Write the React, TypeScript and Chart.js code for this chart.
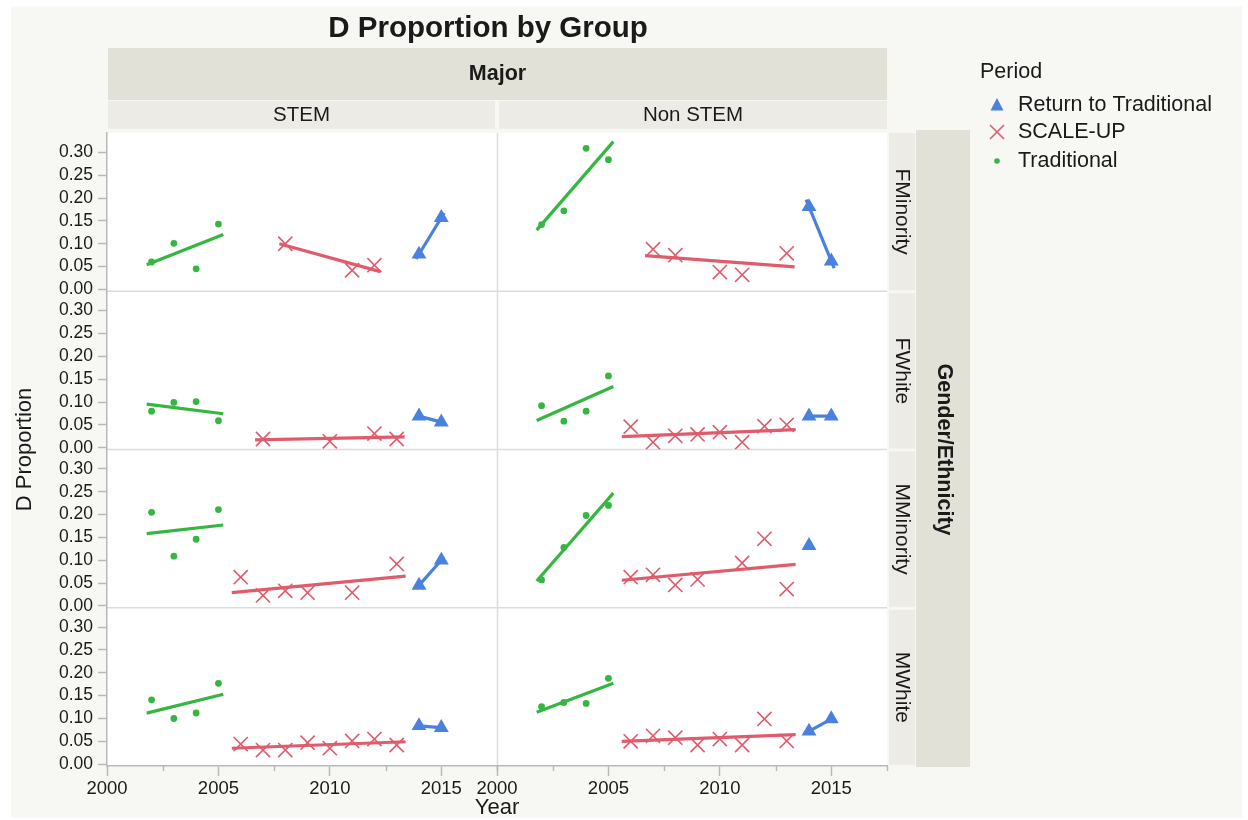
import React, { useEffect, useRef } from 'react';
import { Chart, registerables } from 'chart.js';

Chart.register(...registerables);

// ---------- data ----------
const chartTitle = 'D Proportion by Group';
const colHeader = 'Major';
const rowHeader = 'Gender/Ethnicity';
const colLabels = ['STEM', 'Non STEM'];
const rowLabels = ['FMinority', 'FWhite', 'MMinority', 'MWhite'];
const periodNames = ['Return to Traditional', 'SCALE-UP', 'Traditional'];
const legendTitle = 'Period';
const xTitle = 'Year';
const yTitle = 'D Proportion';

const tradYears = [2002, 2003, 2004, 2005];
const rttYears = [2014, 2015];

// Traditional
const tradStemFMinority = [0.060, 0.101, 0.045, 0.143];
const tradStemFWhite = [0.080, 0.099, 0.101, 0.059];
const tradStemMMinority = [0.205, 0.109, 0.146, 0.211];
const tradStemMWhite = [0.141, 0.100, 0.112, 0.177];
const tradNonStemFMinority = [0.142, 0.172, 0.309, 0.284];
const tradNonStemFWhite = [0.092, 0.058, 0.080, 0.157];
const tradNonStemMMinority = [0.057, 0.128, 0.198, 0.220];
const tradNonStemMWhite = [0.126, 0.135, 0.133, 0.188];

// Return to Traditional
const rttStemFMinority = [0.077, 0.157];
const rttStemFWhite = [0.069, 0.056];
const rttStemMMinority = [0.045, 0.100];
const rttStemMWhite = [0.084, 0.080];
const rttNonStemFMinority = [0.181, 0.062];
const rttNonStemFWhite = [0.069, 0.069];
const rttNonStemMMinority = [0.132, null];
const rttNonStemMWhite = [0.072, 0.099];

// SCALE-UP  [year, value]
const suStemFMinority = [[2008, 0.100], [2011, 0.042], [2012, 0.053]];
const suStemFWhite = [[2007, 0.019], [2010, 0.014], [2012, 0.031], [2013, 0.019]];
const suStemMMinority = [[2006, 0.063], [2007, 0.023], [2008, 0.033], [2009, 0.029], [2011, 0.029], [2013, 0.092]];
const suStemMWhite = [[2006, 0.044], [2007, 0.031], [2008, 0.031], [2009, 0.047], [2010, 0.035], [2011, 0.051], [2012, 0.055], [2013, 0.042]];
const suNonStemFMinority = [[2007, 0.088], [2008, 0.075], [2010, 0.038], [2011, 0.032], [2013, 0.079]];
const suNonStemFWhite = [[2006, 0.046], [2007, 0.012], [2008, 0.026], [2009, 0.029], [2010, 0.034], [2011, 0.012], [2012, 0.047], [2013, 0.050]];
const suNonStemMMinority = [[2006, 0.063], [2007, 0.068], [2008, 0.046], [2009, 0.058], [2011, 0.094], [2012, 0.147], [2013, 0.037]];
const suNonStemMWhite = [[2006, 0.050], [2007, 0.062], [2008, 0.058], [2009, 0.042], [2010, 0.055], [2011, 0.042], [2012, 0.099], [2013, 0.051]];

const tradPanels = [
  [tradStemFMinority, tradNonStemFMinority],
  [tradStemFWhite, tradNonStemFWhite],
  [tradStemMMinority, tradNonStemMMinority],
  [tradStemMWhite, tradNonStemMWhite],
];
const rttPanels = [
  [rttStemFMinority, rttNonStemFMinority],
  [rttStemFWhite, rttNonStemFWhite],
  [rttStemMMinority, rttNonStemMMinority],
  [rttStemMWhite, rttNonStemMWhite],
];
const suPanels = [
  [suStemFMinority, suNonStemFMinority],
  [suStemFWhite, suNonStemFWhite],
  [suStemMMinority, suNonStemMMinority],
  [suStemMWhite, suNonStemMWhite],
];

// ---------- styles ----------
const FONT = "'Liberation Sans', Arial, Helvetica, sans-serif";
const BLUE = '#4a80de';
const RED = '#e05b6b';
const GREEN = '#35b640';
const BG = '#f7f7f3';
const STRIP_DARK = '#e1e1d7';
const STRIP_LIGHT = '#ecebe5';
const AXIS_GRAY = '#b8b8b8';
const TEXT = '#1a1a1a';

type Pt = { x: number; y: number };

// least-squares line of fit over the group's points (as the source tool draws)
function fitLine(pts: Pt[]): Pt[] | null {
  if (pts.length < 2) return null;
  const n = pts.length;
  const mx = pts.reduce((s, p) => s + p.x, 0) / n;
  const my = pts.reduce((s, p) => s + p.y, 0) / n;
  let sxy = 0, sxx = 0;
  pts.forEach((p) => { sxy += (p.x - mx) * (p.y - my); sxx += (p.x - mx) * (p.x - mx); });
  const b = sxy / sxx;
  const xmin = Math.min(...pts.map((p) => p.x));
  const xmax = Math.max(...pts.map((p) => p.x));
  const ext = 0.085 + 0.045 * (xmax - xmin);
  const x0 = xmin - ext, x1 = xmax + ext;
  return [{ x: x0, y: my + b * (x0 - mx) }, { x: x1, y: my + b * (x1 - mx) }];
}

function buildDatasets() {
  const ds: any[] = [];
  for (let r = 0; r < rowLabels.length; r++) {
    for (let c = 0; c < colLabels.length; c++) {
      const xAxisID = 'x' + c;
      const yAxisID = 'y' + r;
      const trad: Pt[] = tradYears.map((x, i) => ({ x, y: tradPanels[r][c][i] as number }));
      const su: Pt[] = suPanels[r][c].map(([x, y]) => ({ x, y }));
      const rtt: Pt[] = rttYears
        .map((x, i) => ({ x, y: rttPanels[r][c][i] as any }))
        .filter((p) => p.y !== null && p.y !== undefined);
      const groups = [
        { name: periodNames[2], pts: trad, color: GREEN, style: 'circle', radius: 3.4, bw: 0 },
        { name: periodNames[1], pts: su, color: RED, style: 'crossRot', radius: 10, bw: 1.6 },
        { name: periodNames[0], pts: rtt, color: BLUE, style: 'triangle', radius: 8.6, bw: 0 },
      ];
      groups.forEach((g) => {
        const fit = fitLine(g.pts);
        if (fit) {
          ds.push({
            label: g.name + ' fit',
            data: fit,
            xAxisID, yAxisID,
            showLine: true,
            borderColor: g.color,
            borderWidth: 3.2,
            pointRadius: 0,
            pointHoverRadius: 0,
            order: 2,
          });
        }
        ds.push({
          label: g.name,
          data: g.pts,
          xAxisID, yAxisID,
          showLine: false,
          pointStyle: g.style,
          pointRadius: g.radius,
          pointHoverRadius: g.radius,
          backgroundColor: g.color,
          borderColor: g.color,
          borderWidth: g.bw,
          order: 1,
        });
      });
    }
  }
  return ds;
}

function drawText(ctx: CanvasRenderingContext2D, str: string, x: number, y: number, font: string,
  align: CanvasTextAlign = 'center', rot = 0) {
  ctx.save();
  ctx.translate(x, y);
  if (rot) ctx.rotate(rot);
  ctx.font = font;
  ctx.fillStyle = TEXT;
  ctx.textAlign = align;
  ctx.textBaseline = 'middle';
  ctx.fillText(str, 0, 0);
  ctx.restore();
}

const facetPlugin = {
  id: 'facets',
  beforeDraw(chart: any) {
    const { ctx, chartArea, scales } = chart;
    const xs = [scales.x0, scales.x1];
    const ys = [scales.y0, scales.y1, scales.y2, scales.y3];
    ctx.save();
    ctx.fillStyle = '#ffffff';
    ctx.fillRect(0, 0, chart.width, chart.height);
    ctx.fillStyle = BG;
    ctx.fillRect(11, 6, 1231, 812);

    // panels
    ctx.fillStyle = '#ffffff';
    ctx.fillRect(chartArea.left, chartArea.top, chartArea.right - chartArea.left, chartArea.bottom - chartArea.top);
    ctx.strokeStyle = '#dcdcdc';
    ctx.lineWidth = 1.5;
    ctx.beginPath();
    ctx.moveTo(xs[0].right + 0.5, chartArea.top);
    ctx.lineTo(xs[0].right + 0.5, chartArea.bottom);
    for (let r = 0; r < ys.length - 1; r++) {
      ctx.moveTo(chartArea.left, ys[r].bottom);
      ctx.lineTo(chartArea.right, ys[r].bottom);
    }
    ctx.stroke();

    // title
    drawText(ctx, chartTitle, 488, 29, `bold 29.5px ${FONT}`);

    // column strips
    const left = xs[0].left + 1;
    const right = xs[1].right;
    ctx.fillStyle = STRIP_DARK;
    ctx.fillRect(left, 48, right - left, 52);
    drawText(ctx, colHeader, (left + right) / 2, 74, `bold 21.5px ${FONT}`);
    ctx.fillStyle = STRIP_LIGHT;
    xs.forEach((s: any, c: number) => {
      const l = s.left + (c === 0 ? 1 : 2);
      const rr = s.right - (c === 0 ? 2 : 0);
      ctx.fillRect(l, 101, rr - l, 28);
      drawText(ctx, colLabels[c], (l + rr) / 2, 115.5, `20.5px ${FONT}`);
    });

    // row strips
    const sx = chartArea.right + 2;
    ctx.fillStyle = STRIP_DARK;
    ctx.fillRect(sx + 27, chartArea.top - 3, 54, chartArea.bottom - chartArea.top + 4);
    drawText(ctx, rowHeader, sx + 55, (chartArea.top + chartArea.bottom) / 2, `bold 21.5px ${FONT}`, 'center', Math.PI / 2);
    ys.forEach((s: any, r: number) => {
      ctx.fillStyle = STRIP_LIGHT;
      const t = s.top + (r === 0 ? 0 : 2);
      const b = s.bottom - 1;
      ctx.fillRect(sx, t, 26, b - t);
      drawText(ctx, rowLabels[r], sx + 13, (t + b) / 2, `21px ${FONT}`, 'center', Math.PI / 2);
    });

    // axis titles
    drawText(ctx, yTitle, 25, (chartArea.top + chartArea.bottom) / 2, `22px ${FONT}`, 'center', -Math.PI / 2);
    drawText(ctx, xTitle, (chartArea.left + chartArea.right) / 2, 808, `22px ${FONT}`);

    // legend
    drawText(ctx, legendTitle, 980, 72, `21.5px ${FONT}`, 'left');
    const ly = [105, 132, 161];
    const lx = 997;
    // triangle
    ctx.fillStyle = BLUE;
    ctx.beginPath();
    ctx.moveTo(lx, ly[0] - 7);
    ctx.lineTo(lx + 6.5, ly[0] + 5.5);
    ctx.lineTo(lx - 6.5, ly[0] + 5.5);
    ctx.closePath();
    ctx.fill();
    // cross
    ctx.strokeStyle = RED;
    ctx.lineWidth = 1.6;
    ctx.beginPath();
    ctx.moveTo(lx - 7, ly[1] - 7);
    ctx.lineTo(lx + 7, ly[1] + 7);
    ctx.moveTo(lx + 7, ly[1] - 7);
    ctx.lineTo(lx - 7, ly[1] + 7);
    ctx.stroke();
    // dot
    ctx.fillStyle = GREEN;
    ctx.beginPath();
    ctx.arc(lx, ly[2], 2.8, 0, Math.PI * 2);
    ctx.fill();
    periodNames.forEach((n, i) => drawText(ctx, n, 1018, ly[i], `21.5px ${FONT}`, 'left'));
    ctx.restore();
  },
  afterDraw(chart: any) {
    const { ctx, scales } = chart;
    ctx.save();
    ctx.strokeStyle = AXIS_GRAY;
    ctx.lineWidth = 1.5;
    ['x0', 'x1'].forEach((id) => {
      const s = scales[id];
      for (let v = s.min + 2.5; v <= s.max + 1e-6; v += 5) {
        const px = Math.round(s.getPixelForValue(v)) + 0.5;
        ctx.beginPath();
        ctx.moveTo(px, s.top);
        ctx.lineTo(px, s.top + 5);
        ctx.stroke();
      }
    });
    ctx.restore();
  },
};

function xScale() {
  return {
    type: 'linear',
    position: 'bottom',
    stack: 'cols',
    stackWeight: 1,
    min: 2000,
    max: 2017.5,
    afterFit: (s: any) => { s.height = 34; },
    grid: { display: true, drawOnChartArea: false, drawTicks: true, tickLength: 10, tickColor: AXIS_GRAY, tickWidth: 1.5 },
    border: { display: true, color: AXIS_GRAY, width: 1.5 },
    ticks: {
      stepSize: 5,
      includeBounds: false,
      autoSkip: false,
      maxRotation: 0,
      padding: 2,
      color: TEXT,
      font: { family: FONT, size: 18.5 },
      callback: (v: any) => String(v),
    },
  };
}

function yScale() {
  return {
    type: 'linear',
    position: 'left',
    stack: 'rows',
    stackWeight: 1,
    min: -0.004,
    max: 0.3425,
    afterFit: (s: any) => { s.width = 107; },
    grid: { display: true, drawOnChartArea: false, drawTicks: true, tickLength: 9, tickColor: AXIS_GRAY, tickWidth: 1.5 },
    border: { display: true, color: AXIS_GRAY, width: 1.5 },
    ticks: {
      stepSize: 0.05,
      includeBounds: false,
      autoSkip: false,
      padding: 5,
      color: TEXT,
      font: { family: FONT, size: 17.5 },
      callback: (v: any) => Number(v).toFixed(2),
    },
  };
}

export default function App() {
  const ref = useRef<HTMLCanvasElement>(null);
  useEffect(() => {
    if (!ref.current) return;
    const chart = new Chart(ref.current, {
      type: 'scatter',
      data: { datasets: buildDatasets() },
      options: {
        responsive: false,
        animation: false,
        layout: { padding: { left: 0, top: 133, right: 361, bottom: 20 } },
        plugins: { legend: { display: false }, title: { display: false }, tooltip: { enabled: false } },
        scales: {
          x0: xScale(),
          x1: xScale(),
          y3: yScale(),
          y2: yScale(),
          y1: yScale(),
          y0: yScale(),
        } as any,
      },
      plugins: [facetPlugin],
    } as any);
    return () => chart.destroy();
  }, []);
  return (
    <div style={{ position: 'absolute', left: 0, top: 0, width: 1248, height: 820 }}>
      <canvas ref={ref} width={1248} height={820} style={{ width: 1248, height: 820, display: 'block' }} />
    </div>
  );
}
